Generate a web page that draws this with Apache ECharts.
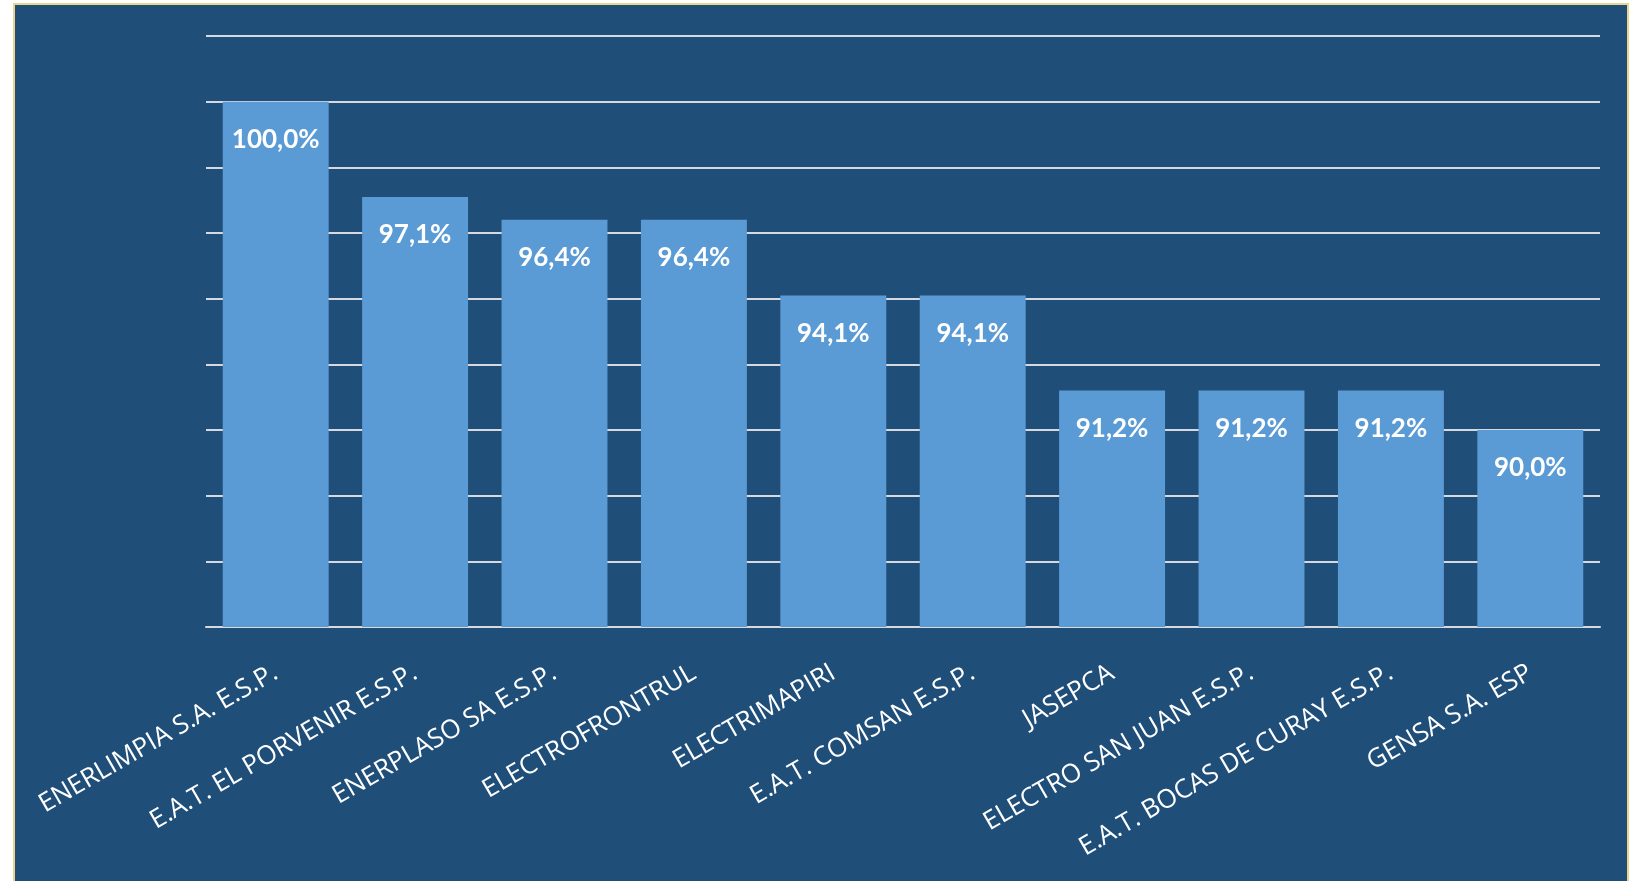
<!DOCTYPE html>
<html>
<head>
<meta charset="utf-8">
<script src="https://cdn.jsdelivr.net/npm/echarts@6/dist/echarts.min.js"></script>
<style>
html,body{margin:0;padding:0;background:#ffffff;}
#chart{width:1639px;height:881px;}
</style>
</head>
<body>
<div id="chart"></div>
<script>
const categories = [
  'ENERLIMPIA S.A. E.S.P.',
  'E.A.T. EL PORVENIR E.S.P.',
  'ENERPLASO SA E.S.P.',
  'ELECTROFRONTRUL',
  'ELECTRIMAPIRI',
  'E.A.T. COMSAN E.S.P.',
  'JASEPCA',
  'ELECTRO SAN JUAN E.S.P.',
  'E.A.T. BOCAS DE CURAY E.S.P.',
  'GENSA S.A. ESP'
];
const values = [100.0, 97.1, 96.4, 96.4, 94.1, 94.1, 91.2, 91.2, 91.2, 90.0];
const yMin = 84;
const yMax = 102;
const yInterval = 2;

const chart = echarts.init(document.getElementById('chart'), null, {renderer: 'canvas'});
chart.setOption({
  backgroundColor: '#ffffff',
  animation: false,
  graphic: [{
    type: 'rect',
    z: -10,
    silent: true,
    shape: {x: 14, y: 4, width: 1614, height: 890},
    style: {fill: '#1F4E79', stroke: '#E9D58E', lineWidth: 2}
  }],
  grid: {left: 206, right: 39, top: 36, bottom: 254, containLabel: false},
  xAxis: {
    type: 'category',
    data: categories,
    axisTick: {show: false},
    axisLine: {show: true, lineStyle: {color: '#D6DAE0', width: 2}},
    axisLabel: {
      rotate: 30,
      margin: 44,
      color: '#ffffff',
      fontFamily: '"Open Sans", Lato, sans-serif',
      fontSize: 26,
      interval: 0
    }
  },
  yAxis: {
    type: 'value',
    min: yMin,
    max: yMax,
    interval: yInterval,
    axisLabel: {show: false},
    axisLine: {show: false},
    axisTick: {show: false},
    splitLine: {show: true, lineStyle: {color: '#D6DAE0', width: 2}}
  },
  series: [{
    type: 'bar',
    data: values,
    barCategoryGap: '24%',
    itemStyle: {color: '#5B9BD5'},
    label: {
      show: true,
      position: 'insideTop',
      distance: 25,
      color: '#ffffff',
      fontFamily: 'Lato, "Open Sans", sans-serif',
      fontWeight: 'bold',
      fontSize: 26,
      formatter: p => p.value.toFixed(1).replace('.', ',') + '%'
    }
  }]
});
</script>
</body>
</html>
